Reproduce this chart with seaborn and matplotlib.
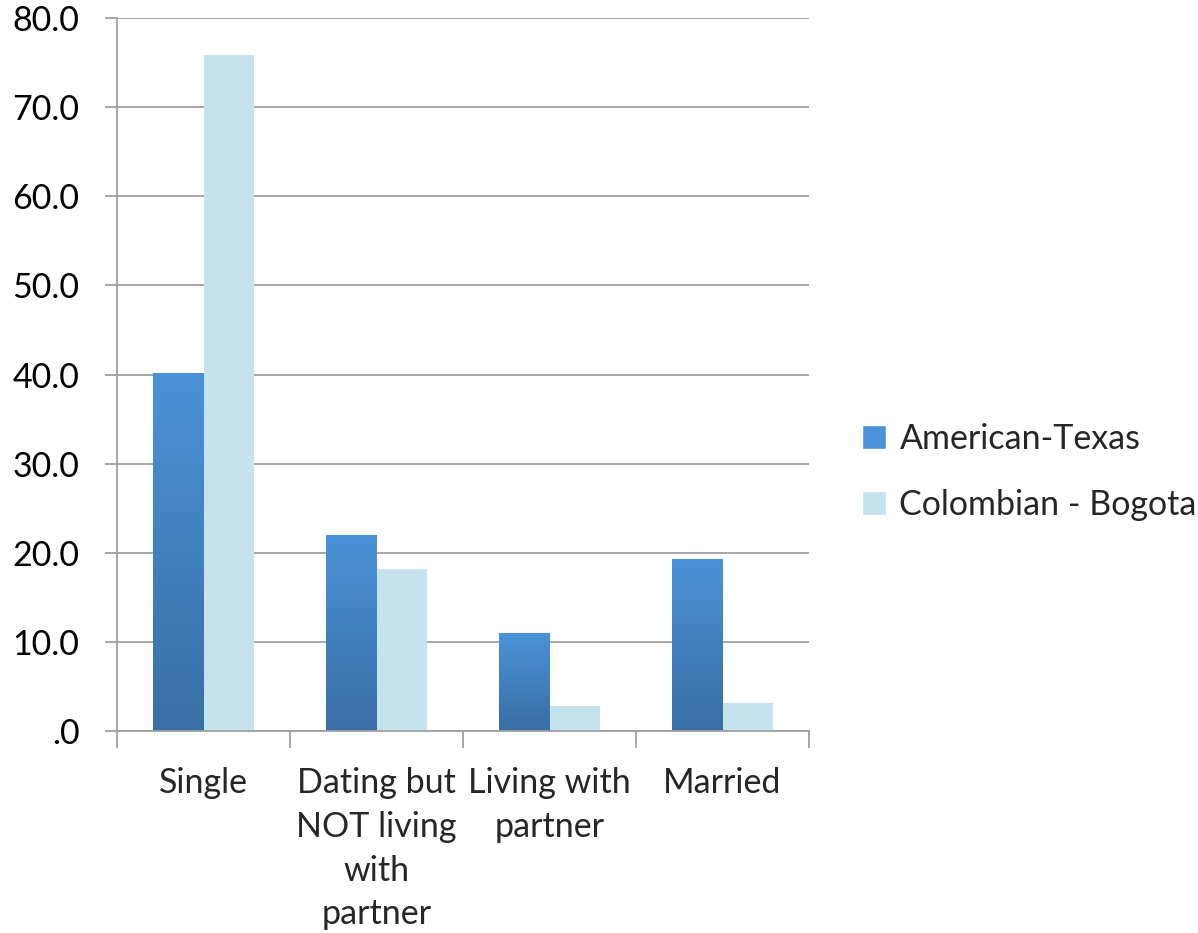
import numpy as np
import pandas as pd
import seaborn as sns
import matplotlib.pyplot as plt
import matplotlib.patches as mpatches
from matplotlib.colors import LinearSegmentedColormap
from matplotlib.ticker import FuncFormatter

categories = ['Single', 'Dating but\nNOT living\nwith\npartner', 'Living with\npartner', 'Married']
american_texas = [40.2, 22.0, 11.0, 19.3]
colombian_bogota = [75.9, 18.2, 2.8, 3.1]
series = ['American-Texas', 'Colombian - Bogota']
yticks = [0, 10, 20, 30, 40, 50, 60, 70, 80]

df = pd.DataFrame({'status': categories * 2,
                   'group': [series[0]] * 4 + [series[1]] * 4,
                   'value': american_texas + colombian_bogota})

sns.set_style('white')
plt.rcParams['font.family'] = ['Lato', 'DejaVu Sans']

fig = plt.figure(figsize=(11.98, 9.33), dpi=100)
ax = fig.add_axes([0.0977, 0.2165, 0.5776, 0.7642])

blue_top = '#4a93d8'
blue_bot = '#3a6ea6'
light = '#c4e3ec'
ax = sns.barplot(data=df, x='status', y='value', hue='group', palette=[blue_top, light],
                 width=0.58, gap=0, linewidth=0, saturation=1, ax=ax, legend=False, zorder=3)

# gradient on the American bars
cmap = LinearSegmentedColormap.from_list('bl', [blue_bot, blue_top])
grad = np.linspace(0, 1, 256).reshape(-1, 1)
for p in ax.containers[0]:
    x0, y0 = p.get_x(), p.get_y()
    w, h = p.get_width(), p.get_height()
    im = ax.imshow(grad, cmap=cmap, aspect='auto', origin='lower',
                   extent=(x0, x0 + w, y0, y0 + h), zorder=3.5)
    im.set_clip_path(p)

ax.set_xlim(-0.5, 3.5)
ax.set_ylim(0, 80)
ax.set_yticks(yticks)
ax.yaxis.set_major_formatter(FuncFormatter(lambda v, _: '.0' if v == 0 else f'{v:.1f}'))
ax.grid(axis='y', color='#a0a0a0', linewidth=1.3, zorder=0)
ax.grid(axis='x', visible=False)
ax.set_xlabel('')
ax.set_ylabel('')

for s in ['top', 'right']:
    ax.spines[s].set_visible(False)
for s in ['left', 'bottom']:
    ax.spines[s].set_color('#a0a0a0')
    ax.spines[s].set_linewidth(1.3)
    ax.spines[s].set_zorder(4)

ax.tick_params(axis='y', which='major', left=True, length=9, width=1.3, color='#a0a0a0',
               labelsize=24.5, pad=18, labelcolor='black')
# category labels between boundary ticks
ax.set_xticks([-0.5, 0.5, 1.5, 2.5, 3.5])
ax.set_xticklabels([])
ax.tick_params(axis='x', which='major', bottom=True, length=12, width=1.3, color='#a0a0a0')
ax.set_xticks(range(len(categories)), minor=True)
ax.set_xticklabels(categories, minor=True, fontsize=24.5, linespacing=1.45, ha='center', va='top')
ax.tick_params(axis='x', which='minor', bottom=False, pad=24)

handles = [mpatches.Patch(facecolor=blue_top, label=series[0]),
           mpatches.Patch(facecolor=light, label=series[1])]
fig.legend(handles=handles, loc='center left', bbox_to_anchor=(0.694, 0.494), frameon=False,
           fontsize=24.5, handlelength=0.7, handleheight=0.7, handletextpad=0.4, labelspacing=1.0)

fig.savefig('out.png', dpi=100)
